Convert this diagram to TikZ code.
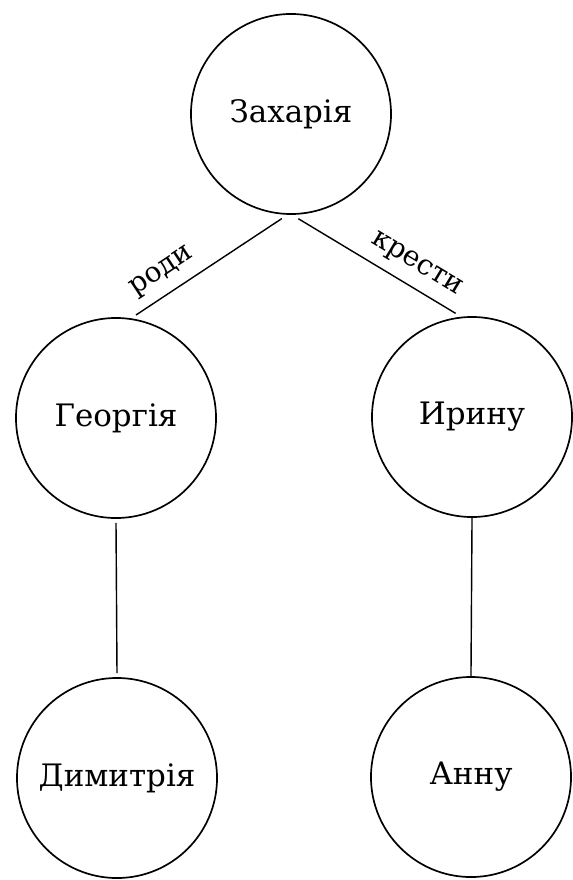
\documentclass[tikz,border=0pt]{standalone}
\usepackage{fontspec}
\setmainfont{DejaVu Serif}
\usepackage{tikz}
\usetikzlibrary{positioning}

\begin{document}
\begin{tikzpicture}[
		x=0.025cm, y=-0.025cm,
		person/.style={circle, draw, line width=1.2pt, minimum size=5cm, inner sep=0pt, outer sep=3.5pt, font=\fontsize{22}{26}\selectfont},
		link/.style={line width=1pt},
		lbl/.style={sloped, above=4pt, font=\fontsize{20}{24}\selectfont}
		]

		\useasboundingbox (0,0) rectangle (572,880);

		\node[person] (zach) at (291,114) {Захарія};
		\node[person] (georg) at (116,418) {Георгія};
		\node[person] (irina) at (472,417) {Ирину};
		\node[person] (dimit) at (117,778) {Димитрія};
		\node[person] (anna) at (471,777) {Анну};

		\draw[link] (zach.-95) -- node[lbl, pos=0.74] {роди} (georg.79);
		\draw[link] (zach.-86) -- node[lbl, pos=0.68] {крести} (irina.99);

		\draw[link] (georg.south) -- (dimit.north);
		\draw[link, shorten <=-3.5pt, shorten >=-3.5pt] (irina.south) -- (anna.north);
	\end{tikzpicture}
\end{document}
